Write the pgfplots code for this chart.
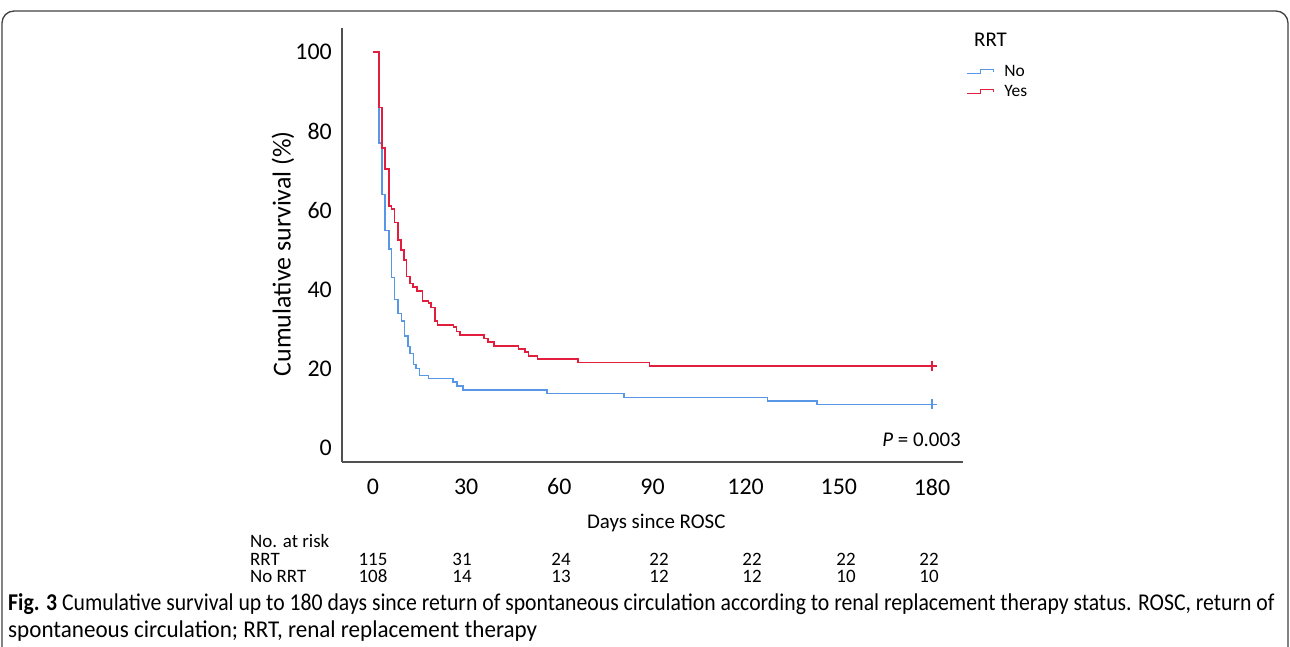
\documentclass[border=0pt]{standalone}
\usepackage{pgfplots}
\pgfplotsset{compat=1.18}
\usepackage{fontspec}
\setmainfont{Carlito}
\usepackage{graphicx}
\definecolor{rrtred}{RGB}{226,30,62}
\definecolor{norrtblue}{RGB}{88,150,230}
\definecolor{axisgray}{RGB}{80,80,80}
\begin{document}
\begin{tikzpicture}
\path[use as bounding box] (0,0) rectangle (1290bp,-647bp);
% frame round the figure
\draw[black!75, line width=1.3bp, rounded corners=12bp] (2bp,-647bp) -- (2bp,-11bp) -- (1288bp,-11bp) -- (1288bp,-647bp);
\begin{axis}[
  at={(342bp,-462bp)}, anchor=south west,
  scale only axis, width=621bp, height=434bp,
  xmin=-10, xmax=190, ymin=-3.54, ymax=106.1,
  axis x line=bottom, axis y line=left,
  axis line style={-, axisgray, line width=1.6bp},
  xtick={0,30,...,180}, ytick={0,20,...,100},
  major tick length=0pt,
  /pgf/number format/assume math mode=true,
  tick label style={font=\fontsize{24}{28}\selectfont},
  xticklabel style={anchor=center, yshift=-25bp},
  yticklabel style={anchor=east, inner sep=0pt, xshift=-10bp},
  xlabel={Days since ROSC}, ylabel={Cumulative survival (\%)},
  xlabel style={font=\fontsize{21}{25}\selectfont, at={(axis description cs:0.506,-0.1406)}, anchor=center},
  ylabel style={font=\fontsize{26}{30}\selectfont, at={(axis description cs:-0.095,0.48)}, anchor=center},
  clip=false,
  legend cell align=left,
  legend style={draw=none, fill=none, at={(axis description cs:1.0048,0.924)}, anchor=north west,
    inner sep=0pt, font=\fontsize{17.5}{20}\selectfont, row sep=0pt,
    nodes={inner sep=2bp, text height=13bp, text depth=3bp},
    /tikz/every odd column/.append style={column sep=8bp}},
  legend image code/.code={\draw[#1, line width=1.2bp] (0bp,-2bp) -- (14bp,-2bp) -- (14bp,1.5bp) -- (27bp,1.5bp) -- (27bp,-1bp);}
]
% No RRT
\addplot[const plot, norrtblue, line width=1.6bp] coordinates {
(0,100)(1.9,77.1)(2.9,64)(3.9,54.9)(5.2,50.2)(6.0,43.1)(6.9,37.5)(8.0,34)(9.2,32.1)
(10.1,28.3)(11.2,25.6)(11.9,23.9)(13.0,21.1)(13.8,20.1)(14.9,18.3)(17.8,17.6)(25.8,16.7)
(27.1,15.7)(29.0,14.6)(56.0,13.8)(80.8,12.8)(127,11.9)(143,11.0)(180,11.0)};
\addlegendentry{No}
% RRT
\addplot[const plot, rrtred, line width=1.6bp] coordinates {
(0,100)(1.9,86)(2.9,75.8)(3.9,70.5)(5.2,61.2)(6.0,60.3)(6.9,57)(8.0,52.5)(9.0,50)(10.0,47.5)
(10.8,43.3)(11.9,41.6)(12.8,40.7)(14.1,39.7)(15.9,37.2)(17.8,36.6)(18.7,35.5)(20.0,32.1)
(20.8,31.1)(25.9,30.5)(26.9,29.4)(28.0,28.5)(35.8,27.7)(37.1,26.8)(39.0,25.8)(46.8,25.0)
(48.9,24.2)(50.0,23.2)(52.9,22.5)(66.0,21.6)(89.0,20.7)(180,20.7)};
\addlegendentry{Yes}
% censored
\addplot[only marks, mark=+, mark size=5bp, norrtblue, mark options={line width=1.8bp}, forget plot] coordinates {(180,11.0)};
\addplot[only marks, mark=+, mark size=5bp, rrtred, mark options={line width=1.8bp}, forget plot] coordinates {(180,20.7)};
\end{axis}
\node[anchor=west, inner sep=0pt, font=\fontsize{21}{25}\selectfont] at (974bp,-40bp) {RRT};
\node[anchor=east, inner sep=0pt, font=\fontsize{21}{25}\selectfont] at (961bp,-440bp) {\textit{P} = 0.003};
% numbers at risk
\begin{scope}[font=\fontsize{19}{22}\selectfont, every node/.style={inner sep=0pt}]
\node[anchor=west] at (250bp,-541bp) {No. at risk};
\node[anchor=west] at (250bp,-559bp) {RRT};
\node[anchor=west] at (250bp,-576bp) {No RRT};
\foreach \x/\a/\b in {373/115/108, 462/31/14, 561/24/13, 659/22/12, 752/22/12, 846/22/10, 929/22/10} {
  \node at (\x bp,-559bp) {\a};
  \node at (\x bp,-576bp) {\b};
}
\end{scope}
% caption
\node[anchor=west, inner sep=0pt] at (8bp,-604bp) {\scalebox{1.063}[1.18]{\fontsize{20.5}{24}\selectfont\textbf{Fig. 3} Cumulative survival up to 180 days since return of spontaneous circulation according to renal replacement therapy status. ROSC, return of}};
\node[anchor=west, inner sep=0pt] at (8bp,-631bp) {\scalebox{1.13}[1.18]{\fontsize{20.5}{24}\selectfont spontaneous circulation; RRT, renal replacement therapy}};
\end{tikzpicture}
\end{document}
